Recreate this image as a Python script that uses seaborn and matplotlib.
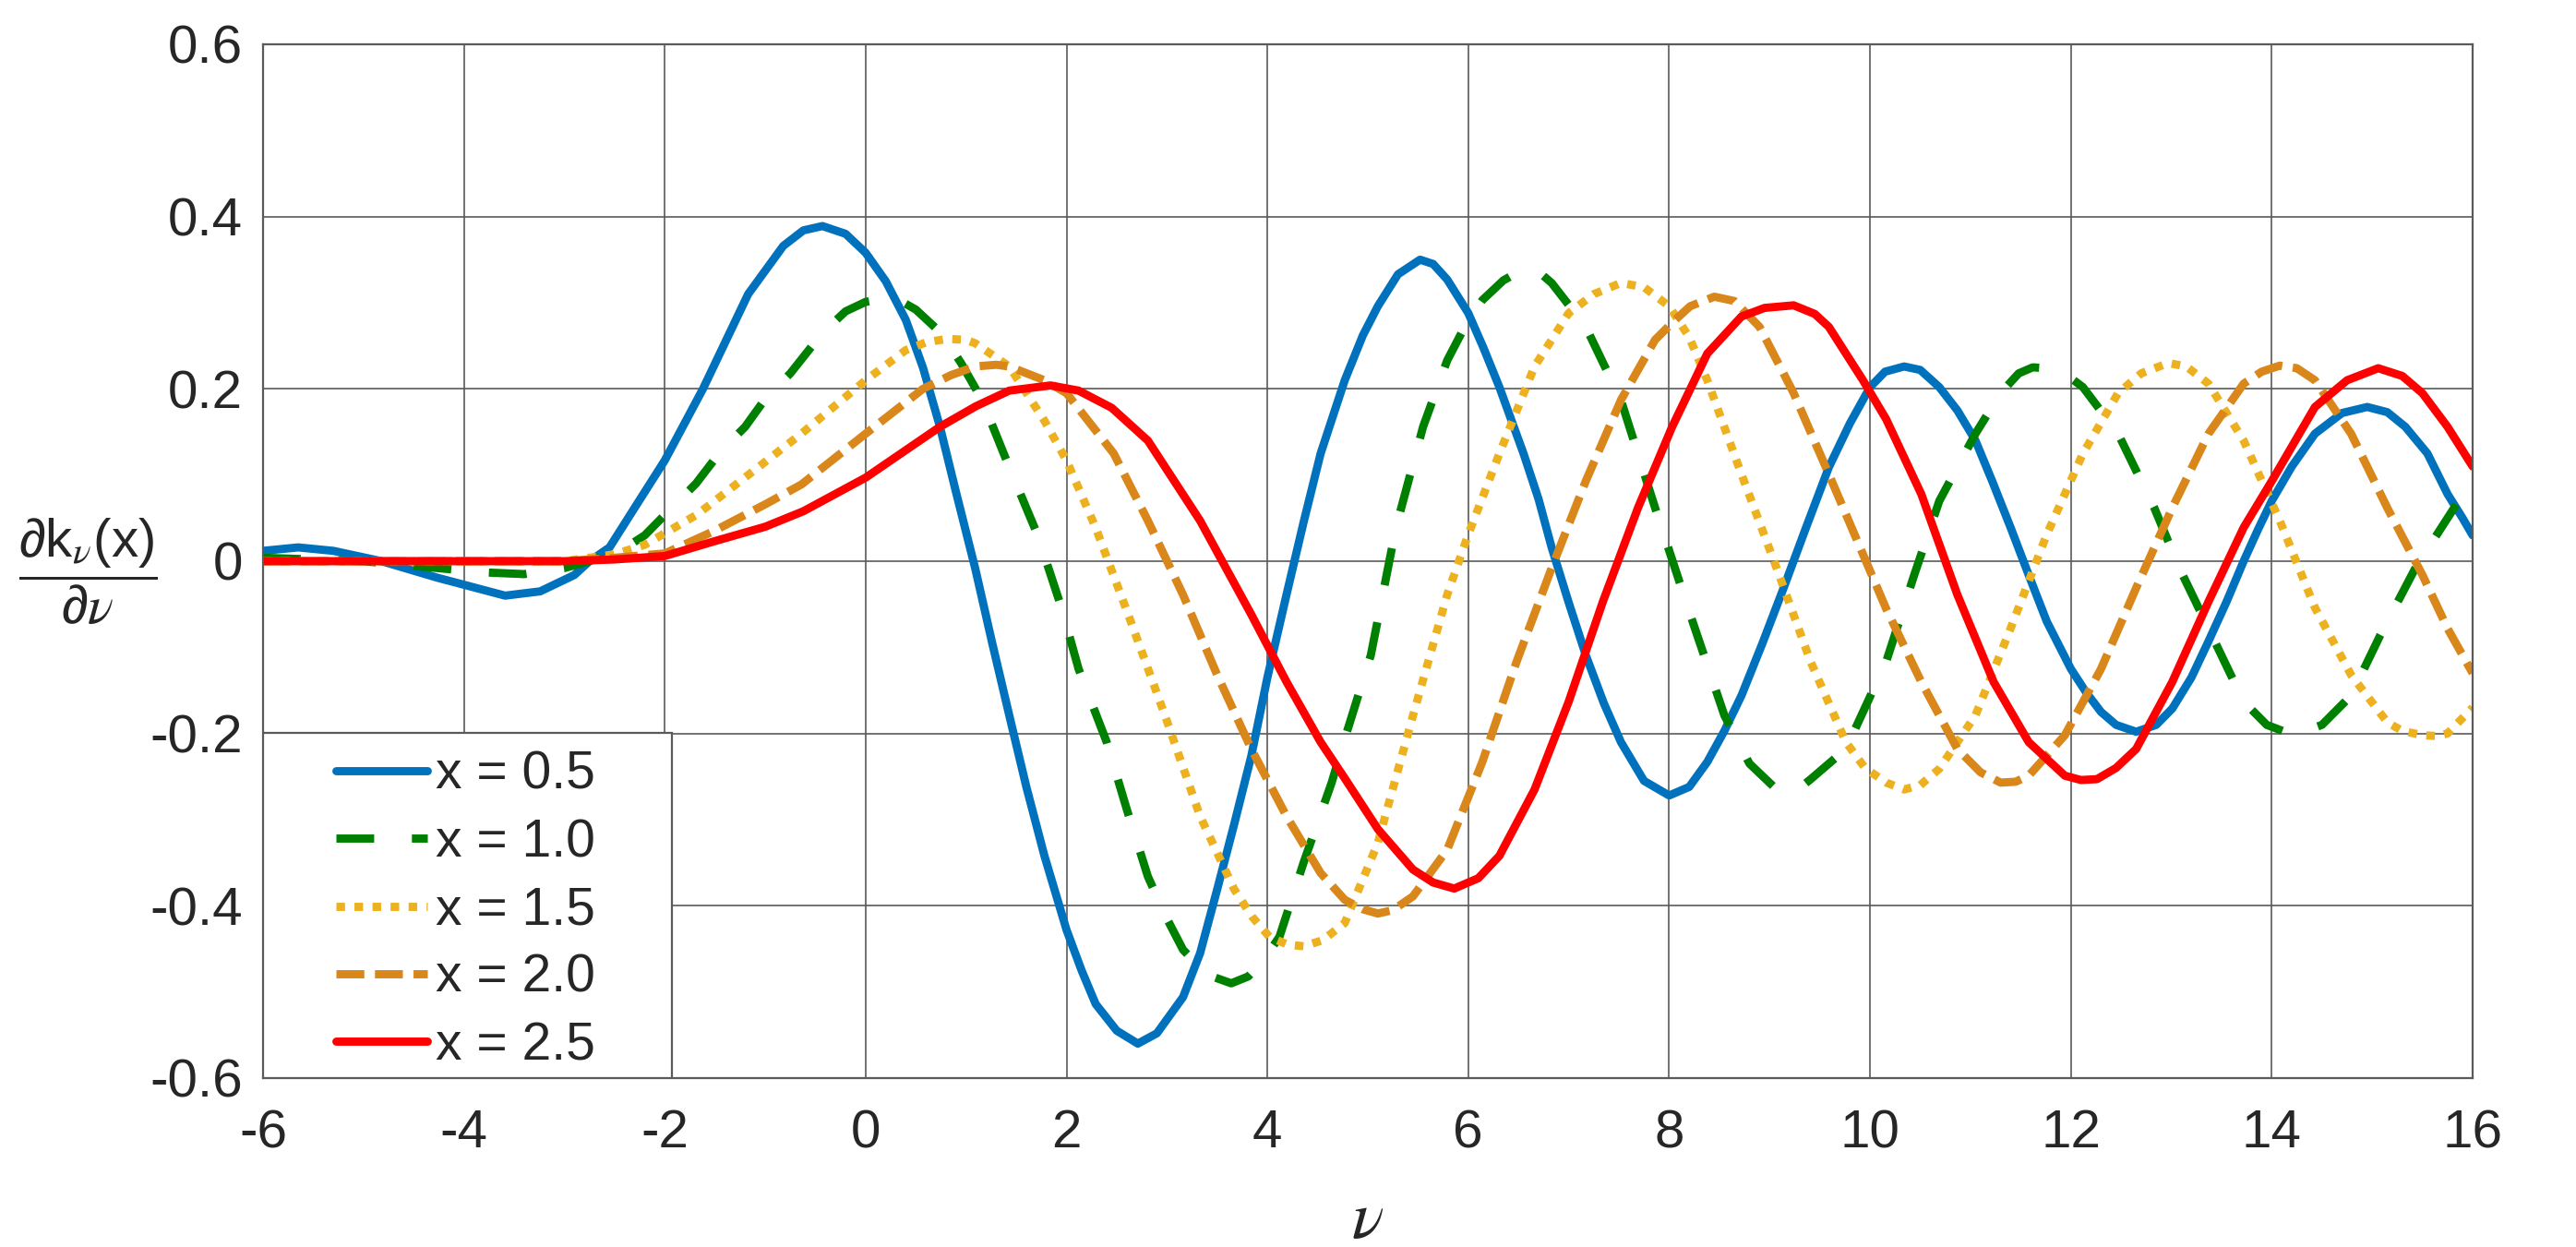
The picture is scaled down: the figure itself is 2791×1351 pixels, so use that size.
import pandas as pd
import matplotlib.pyplot as plt
import seaborn as sns
from matplotlib.patches import Rectangle

# curves, one (nu, value) list pair per x
nu_05 = [-6, -5.65, -5.3, -4.82, -4.27, -3.59, -3.24, -2.9, -2.75, -2.55, -2.3, -2.0,
         -1.62, -1.17, -0.82, -0.62, -0.43, -0.2, 0.0, 0.2, 0.4, 0.57, 0.74, 0.9, 1.09,
         1.26, 1.43, 1.6, 1.78, 2.0, 2.15, 2.29, 2.5, 2.71, 2.9, 3.16, 3.33, 3.5, 3.67,
         3.84, 4.0, 4.19, 4.36, 4.53, 4.77, 4.95, 5.1, 5.3, 5.52, 5.65, 5.79, 6.0, 6.15,
         6.31, 6.55, 6.7, 6.83, 7.0, 7.17, 7.35, 7.52, 7.75, 8.0, 8.2, 8.38, 8.55, 8.72,
         8.93, 9.14, 9.35, 9.59, 9.8, 10.0, 10.15, 10.34, 10.5, 10.69, 10.87, 11.05, 11.22,
         11.4, 11.58, 11.76, 12.0, 12.15, 12.3, 12.45, 12.65, 12.85, 13.01, 13.2, 13.37,
         13.55, 13.72, 13.86, 14.0, 14.2, 14.43, 14.7, 14.95, 15.15, 15.33, 15.55, 15.75,
         15.9, 16.0]
val_05 = [0.012, 0.016, 0.012, 0.0, -0.019, -0.040, -0.035, -0.016, 0.0, 0.016, 0.062, 0.117,
          0.2, 0.31, 0.366, 0.384, 0.389, 0.38, 0.358, 0.325, 0.28, 0.225, 0.156, 0.08, -0.008,
          -0.095, -0.179, -0.262, -0.342, -0.428, -0.475, -0.514, -0.545, -0.56, -0.548, -0.506, -0.455, -0.381, -0.305,
          -0.226, -0.135, -0.039, 0.045, 0.125, 0.21, 0.262, 0.296, 0.333, 0.35, 0.345, 0.327, 0.288, 0.248,
          0.202, 0.125, 0.072, 0.016, -0.048, -0.109, -0.165, -0.21, -0.255, -0.272, -0.262, -0.233, -0.197, -0.156,
          -0.095, -0.031, 0.035, 0.109, 0.16, 0.202, 0.22, 0.226, 0.222, 0.202, 0.175, 0.14, 0.092,
          0.039, -0.016, -0.07, -0.125, -0.152, -0.175, -0.19, -0.198, -0.19, -0.171, -0.135, -0.093,
          -0.047, 0.0, 0.036, 0.07, 0.11, 0.148, 0.172, 0.179, 0.173, 0.156, 0.125, 0.078,
          0.05, 0.03]

nu_10 = [-6, -5, -3.8, -3.4, -3.0, -2.75, -2.4, -2.2, -1.93, -1.69, -1.44, -1.2, -0.99,
         -0.75, -0.43, -0.2, 0.0, 0.2, 0.35, 0.5, 0.75, 0.95, 1.16, 1.43, 1.71, 1.95, 2.12,
         2.4, 2.6, 2.81, 3.0, 3.16, 3.4, 3.64, 3.81, 3.95, 4.12, 4.36, 4.64, 4.76, 5.03, 5.28,
         5.55, 5.79, 6.0, 6.14, 6.35, 6.55, 6.7, 6.83, 7.17, 7.52, 7.86, 8.21, 8.55, 8.8, 9.07,
         9.25, 9.41, 9.76, 10.16, 10.44, 10.69, 11.05, 11.3, 11.48, 11.62, 11.76, 11.95, 12.12,
         12.47, 12.83, 13.08, 13.37, 13.72, 13.95, 14.22, 14.5, 14.79, 15.08, 15.43, 15.75, 16.0]
val_10 = [0.004, 0.0, -0.013, -0.015, -0.008, 0.0, 0.015, 0.03, 0.062, 0.09, 0.128, 0.156, 0.19,
          0.218, 0.265, 0.29, 0.301, 0.305, 0.302, 0.292, 0.265, 0.23, 0.187, 0.109, 0.031, -0.054, -0.125,
          -0.21, -0.288, -0.366, -0.415, -0.451, -0.48, -0.49, -0.482, -0.465, -0.436, -0.35, -0.257, -0.21, -0.109, 0.039,
          0.156, 0.233, 0.28, 0.303, 0.326, 0.339, 0.336, 0.323, 0.272, 0.187, 0.062, -0.062, -0.179, -0.235, -0.265,
          -0.268, -0.253, -0.218, -0.117, -0.016, 0.07, 0.148, 0.195, 0.218, 0.225, 0.224, 0.217, 0.202,
          0.148, 0.062, -0.008, -0.078, -0.163, -0.19, -0.202, -0.19, -0.156, -0.086, -0.008, 0.05, 0.095]

nu_15 = [-6, -3.0, -2.5, -2.2, -1.68, -1.17, -0.64, 0.0, 0.4, 0.6, 0.81, 1.0, 1.09, 1.43,
         1.78, 2.0, 2.29, 2.64, 2.98, 3.33, 3.67, 3.85, 4.02, 4.2, 4.36, 4.55, 4.77, 5.1, 5.45,
         5.79, 6.0, 6.31, 6.66, 7.0, 7.25, 7.52, 7.75, 8.0, 8.2, 8.38, 8.72, 9.07, 9.41, 9.76,
         9.95, 10.16, 10.34, 10.5, 10.69, 11.05, 11.4, 11.76, 12.12, 12.47, 12.7, 12.97, 13.15,
         13.37, 13.72, 14.08, 14.43, 14.79, 15.15, 15.3, 15.5, 15.65, 15.75, 16.0]
val_15 = [0.0, 0.0, 0.008, 0.019, 0.054, 0.1, 0.148, 0.21, 0.245, 0.254, 0.258, 0.257, 0.253, 0.226,
          0.163, 0.117, 0.039, -0.07, -0.179, -0.296, -0.381, -0.413, -0.436, -0.445, -0.447, -0.44, -0.42, -0.327, -0.179,
          -0.039, 0.031, 0.125, 0.226, 0.288, 0.31, 0.323, 0.318, 0.296, 0.26, 0.21, 0.101, -0.008, -0.117, -0.21,
          -0.24, -0.257, -0.265, -0.26, -0.241, -0.179, -0.078, 0.031, 0.125, 0.195, 0.218, 0.23, 0.226,
          0.206, 0.14, 0.047, -0.054, -0.132, -0.187, -0.197, -0.202, -0.203, -0.2, -0.17]

nu_20 = [-6, -3.0, -2.5, -2.0, -1.51, -1.0, -0.64, 0.0, 0.57, 0.85, 1.09, 1.3, 1.43, 1.78, 2.0,
         2.47, 2.81, 3.16, 3.5, 3.84, 4.19, 4.53, 4.77, 4.95, 5.1, 5.25, 5.45, 5.79, 6.14, 6.48,
         6.83, 7.17, 7.52, 7.86, 8.05, 8.21, 8.45, 8.65, 8.9, 9.24, 9.59, 9.93, 10.16, 10.51,
         10.87, 11.1, 11.3, 11.45, 11.58, 11.94, 12.3, 12.65, 13.01, 13.37, 13.72, 13.9, 14.08,
         14.25, 14.43, 14.79, 15.15, 15.5, 15.75, 16.0]
val_20 = [0.0, 0.0, 0.004, 0.009, 0.035, 0.066, 0.089, 0.148, 0.2, 0.216, 0.226, 0.228, 0.226, 0.21, 0.195,
          0.125, 0.047, -0.039, -0.132, -0.218, -0.296, -0.362, -0.393, -0.404, -0.409, -0.405, -0.389, -0.335, -0.233, -0.117,
          -0.008, 0.093, 0.187, 0.257, 0.279, 0.296, 0.307, 0.302, 0.272, 0.195, 0.101, 0.008, -0.055, -0.14,
          -0.218, -0.245, -0.257, -0.256, -0.249, -0.202, -0.125, -0.031, 0.062, 0.148, 0.206, 0.22, 0.227,
          0.224, 0.21, 0.148, 0.062, -0.016, -0.078, -0.13]

nu_25 = [-6, -3.0, -2.5, -2.0, -1.51, -1.0, -0.62, 0.0, 0.74, 1.1, 1.43, 1.84, 2.12, 2.45,
         2.81, 3.33, 3.84, 4.19, 4.53, 4.77, 5.1, 5.45, 5.65, 5.86, 6.1, 6.31, 6.66, 7.0, 7.34,
         7.69, 8.03, 8.38, 8.72, 8.95, 9.24, 9.45, 9.59, 9.93, 10.16, 10.51, 10.87, 11.23,
         11.58, 11.94, 12.1, 12.26, 12.45, 12.65, 13.01, 13.37, 13.72, 14.0, 14.43, 14.75,
         15.06, 15.3, 15.5, 15.75, 16.0]
val_25 = [0.0, 0.0, 0.002, 0.006, 0.023, 0.04, 0.058, 0.097, 0.156, 0.18, 0.198, 0.204, 0.198, 0.178,
          0.14, 0.047, -0.062, -0.14, -0.21, -0.252, -0.311, -0.358, -0.373, -0.38, -0.368, -0.342, -0.265, -0.163, -0.047,
          0.062, 0.156, 0.241, 0.284, 0.294, 0.297, 0.287, 0.272, 0.21, 0.165, 0.078, -0.039, -0.14,
          -0.21, -0.249, -0.254, -0.253, -0.24, -0.218, -0.14, -0.047, 0.039, 0.093, 0.179, 0.21,
          0.224, 0.215, 0.195, 0.156, 0.11]

labels = ["x = 0.5", "x = 1.0", "x = 1.5", "x = 2.0", "x = 2.5"]
x_ticks = [-6, -4, -2, 0, 2, 4, 6, 8, 10, 12, 14, 16]
y_ticks = [-0.6, -0.4, -0.2, 0, 0.2, 0.4, 0.6]
y_tick_labels = ["-0.6", "-0.4", "-0.2", "0", "0.2", "0.4", "0.6"]

parts = []
for lab, nu, val in zip(labels, [nu_05, nu_10, nu_15, nu_20, nu_25],
                        [val_05, val_10, val_15, val_20, val_25]):
    parts.append(pd.DataFrame({"nu": nu, "value": val, "series": lab}))
df = pd.concat(parts, ignore_index=True)

palette = {"x = 0.5": "#0072BD", "x = 1.0": "#008000", "x = 1.5": "#EDB120",
           "x = 2.0": "#D9861A", "x = 2.5": "#FF0000"}
dashes = {"x = 0.5": "", "x = 1.0": (4.6, 4.6), "x = 1.5": (1.05, 1.15),
          "x = 2.0": (3.4, 1.3), "x = 2.5": ""}

sns.set_style("white")
plt.rcParams["font.family"] = ["Liberation Sans", "DejaVu Sans"]
plt.rcParams["mathtext.fontset"] = "custom"
plt.rcParams["mathtext.rm"] = "Liberation Sans"
plt.rcParams["mathtext.it"] = "STIXGeneral:italic"
plt.rcParams["mathtext.bf"] = "Liberation Sans:bold"
plt.rcParams["axes.unicode_minus"] = False

fig = plt.figure(figsize=(13.955, 6.755), dpi=200)
ax = fig.add_axes([0.10211, 0.13546, 0.85776, 0.82902])

sns.lineplot(data=df, x="nu", y="value", hue="series", style="series",
             hue_order=labels, style_order=labels, palette=palette, dashes=dashes,
             estimator=None, sort=False, linewidth=3.2, ax=ax)

ax.set_xlim(-6, 16)
ax.set_ylim(-0.6, 0.6)
ax.set_xticks(x_ticks)
ax.set_xticklabels([str(t) for t in x_ticks])
ax.set_yticks(y_ticks)
ax.set_yticklabels(y_tick_labels)
ax.tick_params(axis="both", length=0, labelsize=21, colors="#262626")
ax.tick_params(axis="y", pad=8)
ax.tick_params(axis="x", pad=12)

ax.grid(True, color="#5a5a5a", linewidth=0.6)
ax.set_axisbelow(True)
for sp in ax.spines.values():
    sp.set_color("#5a5a5a")
    sp.set_linewidth(0.8)

ax.set_xlabel(r"$\nu$", fontsize=26, labelpad=12, color="#262626")
ax.set_ylabel(r"$\dfrac{\partial\mathrm{k}_{\nu}\mathrm{(x)}}{\partial\nu}$",
              fontsize=21, rotation=0, ha="center", va="center", color="#262626")
ax.yaxis.set_label_coords(-0.079, 0.49)

# legend box drawn separately so the padding matches
ax.add_patch(Rectangle((0, 0), 0.185, 0.334, transform=ax.transAxes,
                       facecolor="white", edgecolor="#5a5a5a", linewidth=0.8, zorder=4))
handles, labs = ax.get_legend_handles_labels()
leg = ax.legend(handles, labs, loc="center", bbox_to_anchor=(0.0915, 0.162),
                frameon=False, fontsize=20.5, borderpad=0, handlelength=1.75,
                handletextpad=0.15, labelspacing=0.34)
leg.set_zorder(5)

plt.savefig("out.png", dpi=200)
